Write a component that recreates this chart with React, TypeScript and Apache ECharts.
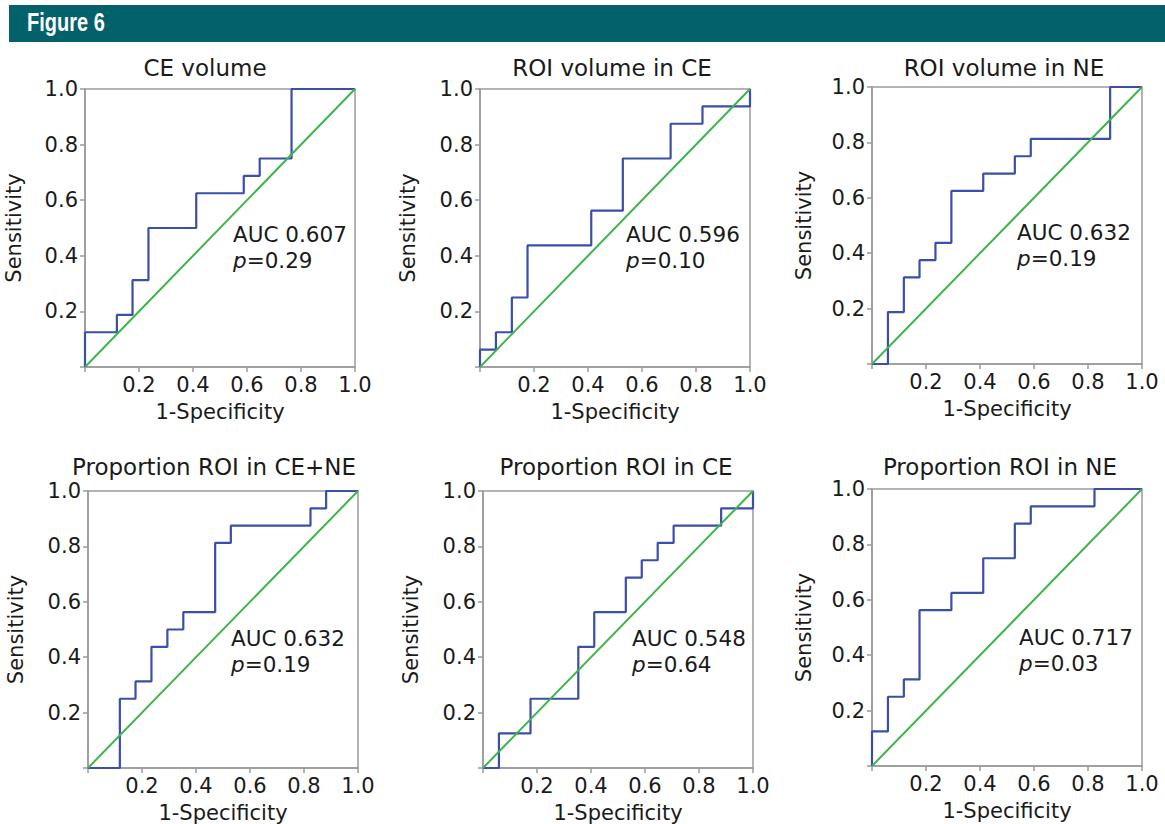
import React, { useEffect, useRef } from "react";
import * as echarts from "echarts";

// Panel titles
const titles = [
  "CE volume",
  "ROI volume in CE",
  "ROI volume in NE",
  "Proportion ROI in CE+NE",
  "Proportion ROI in CE",
  "Proportion ROI in NE",
];

// AUC and p values
const aucValues = ["0.607", "0.596", "0.632", "0.632", "0.548", "0.717"];
const pValues = ["0.29", "0.10", "0.19", "0.19", "0.64", "0.03"];

// ROC vertices (1-Specificity, Sensitivity) per panel
const fpr1 = [0, 0, 0.118, 0.118, 0.176, 0.176, 0.235, 0.235, 0.412, 0.412, 0.588, 0.588, 0.647, 0.647, 0.765, 0.765, 1];
const tpr1 = [0, 0.125, 0.125, 0.1875, 0.1875, 0.3125, 0.3125, 0.5, 0.5, 0.625, 0.625, 0.6875, 0.6875, 0.75, 0.75, 1, 1];

const fpr2 = [0, 0, 0.059, 0.059, 0.118, 0.118, 0.176, 0.176, 0.412, 0.412, 0.529, 0.529, 0.706, 0.706, 0.824, 0.824, 1, 1];
const tpr2 = [0, 0.0625, 0.0625, 0.125, 0.125, 0.25, 0.25, 0.4375, 0.4375, 0.5625, 0.5625, 0.75, 0.75, 0.875, 0.875, 0.9375, 0.9375, 1];

const fpr3 = [0, 0.059, 0.059, 0.118, 0.118, 0.176, 0.176, 0.235, 0.235, 0.294, 0.294, 0.412, 0.412, 0.529, 0.529, 0.588, 0.588, 0.882, 0.882, 1];
const tpr3 = [0, 0, 0.1875, 0.1875, 0.3125, 0.3125, 0.375, 0.375, 0.4375, 0.4375, 0.625, 0.625, 0.6875, 0.6875, 0.75, 0.75, 0.8125, 0.8125, 1, 1];

const fpr4 = [0, 0.118, 0.118, 0.176, 0.176, 0.235, 0.235, 0.294, 0.294, 0.353, 0.353, 0.471, 0.471, 0.529, 0.529, 0.824, 0.824, 0.882, 0.882, 1];
const tpr4 = [0, 0, 0.25, 0.25, 0.3125, 0.3125, 0.4375, 0.4375, 0.5, 0.5, 0.5625, 0.5625, 0.8125, 0.8125, 0.875, 0.875, 0.9375, 0.9375, 1, 1];

const fpr5 = [0, 0.059, 0.059, 0.176, 0.176, 0.353, 0.353, 0.412, 0.412, 0.529, 0.529, 0.588, 0.588, 0.647, 0.647, 0.706, 0.706, 0.882, 0.882, 1, 1];
const tpr5 = [0, 0, 0.125, 0.125, 0.25, 0.25, 0.4375, 0.4375, 0.5625, 0.5625, 0.6875, 0.6875, 0.75, 0.75, 0.8125, 0.8125, 0.875, 0.875, 0.9375, 0.9375, 1];

const fpr6 = [0, 0, 0.059, 0.059, 0.118, 0.118, 0.176, 0.176, 0.294, 0.294, 0.412, 0.412, 0.529, 0.529, 0.588, 0.588, 0.824, 0.824, 1];
const tpr6 = [0, 0.125, 0.125, 0.25, 0.25, 0.3125, 0.3125, 0.5625, 0.5625, 0.625, 0.625, 0.75, 0.75, 0.875, 0.875, 0.9375, 0.9375, 1, 1];

// Reference (chance) line
const chanceX = [0, 1];
const chanceY = [0, 1];

const FONT = "DejaVu Sans";
const BLUE = "#3A4FA8";
const GREEN = "#3DB54A";
const GRAY = "#9a9a9a";

// Layout (pixels)
const grids = [
  { left: 85, top: 89, width: 270, height: 278, titleX: 205, titleY: 68, nameGap: 61, aucX: 233, aucY: 234 },
  { left: 480, top: 89, width: 270, height: 278, titleX: 612, titleY: 68, nameGap: 62, aucX: 626, aucY: 234 },
  { left: 872, top: 87, width: 270, height: 277, titleX: 1004, titleY: 68, nameGap: 58, aucX: 1017, aucY: 232 },
  { left: 88, top: 491, width: 270, height: 277, titleX: 214, titleY: 467, nameGap: 62, aucX: 231, aucY: 638 },
  { left: 483, top: 491, width: 270, height: 277, titleX: 616, titleY: 467, nameGap: 62, aucX: 632, aucY: 638 },
  { left: 872, top: 489, width: 270, height: 277, titleX: 1000, titleY: 467, nameGap: 58, aucX: 1019, aucY: 637 },
];

const curves = [
  [fpr1, tpr1],
  [fpr2, tpr2],
  [fpr3, tpr3],
  [fpr4, tpr4],
  [fpr5, tpr5],
  [fpr6, tpr6],
];

export default function App() {
  const ref = useRef<HTMLDivElement>(null);
  useEffect(() => {
    if (!ref.current) return;
    const chart = echarts.init(ref.current, null, { renderer: "svg" });
    const fmt = (v: number) => (v === 0 ? "" : v.toFixed(1));
    const axisCommon = {
      type: "value",
      min: 0,
      max: 1,
      interval: 0.2,
      splitLine: { show: false },
      axisLine: { show: true, lineStyle: { color: GRAY, width: 1.5 } },
      axisTick: { show: true, length: 5, lineStyle: { color: GRAY, width: 1.5 } },
      axisLabel: { formatter: fmt, color: "#1a1a1a", fontSize: 21, fontFamily: FONT, margin: 7 },
      nameLocation: "middle",
      nameTextStyle: { color: "#1a1a1a", fontSize: 21, fontFamily: FONT },
    };
    const option: any = {
      animation: false,
      backgroundColor: "#ffffff",
      grid: grids.map((g) => ({
        left: g.left,
        top: g.top,
        width: g.width,
        height: g.height,
        show: true,
        borderColor: GRAY,
        borderWidth: 1.5,
        backgroundColor: "transparent",
        containLabel: false,
        outerBoundsMode: "none",
      })),
      xAxis: grids.map((g, i) => ({
        ...axisCommon,
        gridIndex: i,
        name: "1-Specificity",
        nameGap: 34,
      })),
      yAxis: grids.map((g, i) => ({
        ...axisCommon,
        gridIndex: i,
        name: "Sensitivity",
        nameGap: g.nameGap,
      })),
      series: [
        ...curves.map(([xs, ys], i) => ({
          type: "line",
          xAxisIndex: i,
          yAxisIndex: i,
          data: xs.map((x, k) => [x, ys[k]]),
          showSymbol: false,
          lineStyle: { color: BLUE, width: 2.2 },
          z: 2,
        })),
        ...curves.map((_, i) => ({
          type: "line",
          xAxisIndex: i,
          yAxisIndex: i,
          data: chanceX.map((x, k) => [x, chanceY[k]]),
          showSymbol: false,
          lineStyle: { color: GREEN, width: 2 },
          z: 3,
        })),
      ],
      graphic: [
        {
          type: "rect",
          shape: { x: 9, y: 5, width: 1156, height: 37 },
          style: { fill: "#03616C" },
        },
        {
          type: "text",
          x: 27,
          y: 23,
          scaleX: 0.8,
          style: {
            text: "Figure 6",
            fill: "#ffffff",
            font: 'bold 25px "Liberation Sans", Arial, sans-serif',
            textVerticalAlign: "middle",
          },
        },
        ...grids.map((g, i) => ({
          type: "text",
          x: g.titleX,
          y: g.titleY,
          style: {
            text: titles[i],
            fill: "#1a1a1a",
            font: `23px "${FONT}"`,
            textAlign: "center",
            textVerticalAlign: "middle",
          },
        })),
        ...grids.map((g, i) => ({
          type: "text",
          x: g.aucX,
          y: g.aucY,
          style: {
            text: "AUC " + aucValues[i],
            fill: "#1a1a1a",
            font: `21.5px "${FONT}"`,
            textAlign: "left",
            textVerticalAlign: "middle",
          },
        })),
        ...grids.map((g, i) => ({
          type: "text",
          x: g.aucX,
          y: g.aucY + 26,
          style: {
            text: "{i|p}=" + pValues[i],
            fill: "#1a1a1a",
            font: `21.5px "${FONT}"`,
            textAlign: "left",
            textVerticalAlign: "middle",
            rich: {
              i: { fontStyle: "italic", fontSize: 21.5, fontFamily: FONT, fill: "#1a1a1a" },
            },
          },
        })),
      ],
    };
    chart.setOption(option);
    return () => chart.dispose();
  }, []);
  return (
    <div
      ref={ref}
      style={{ position: "absolute", left: 0, top: 0, width: 1165, height: 824 }}
    />
  );
}
